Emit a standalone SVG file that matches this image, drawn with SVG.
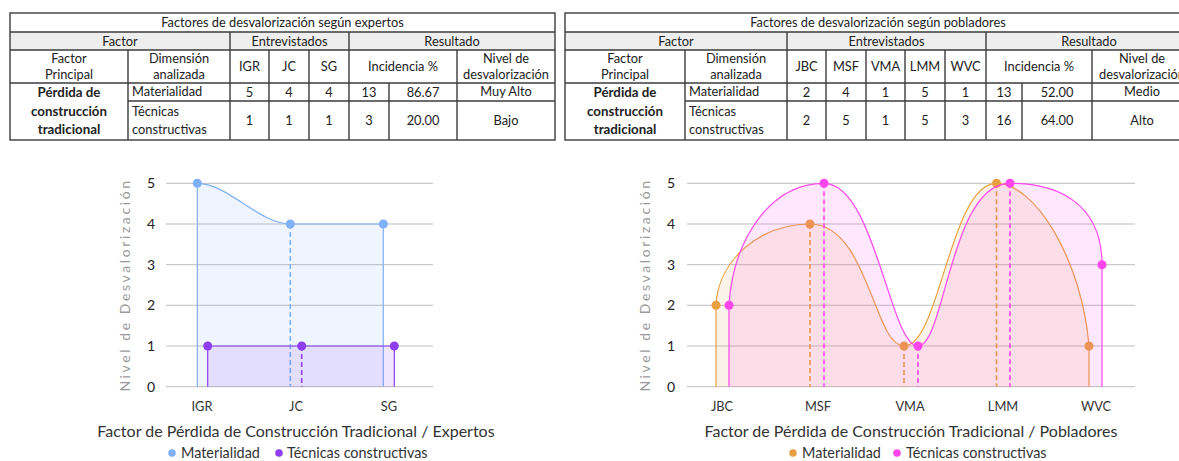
<svg xmlns="http://www.w3.org/2000/svg" width="1179" height="461" viewBox="0 0 1179 461">
<style>
  text { font-family: Lato, "Open Sans", "Liberation Sans", sans-serif; fill: #222; }
  .t { font-size: 12.8px; text-anchor: middle; }
  .tl { font-size: 12.8px; text-anchor: start; }
  .b { font-weight: bold; font-size: 13.3px; }
  .grid { stroke: #bdbdbd; stroke-width: 1; }
  .tb { stroke: #3c3c3c; stroke-width: 1.4; fill: none; }
  .ytick { font-size: 14px; text-anchor: middle; fill: #222; }
  .xtick { font-size: 12.8px; text-anchor: middle; fill: #333; }
  .ytitle { font-size: 14px; text-anchor: middle; fill: #9a9a9a; letter-spacing: 2.6px; }
  .xtitle { font-size: 16px; text-anchor: middle; fill: #333; }
  .leg { font-size: 14.4px; fill: #333; }
  .blue { stroke: #7fb0f5; fill: none; stroke-width: 1.2; }
  .purple { stroke: #8c3ef0; fill: none; stroke-width: 1.2; }
  .orange { stroke: #e9a040; fill: none; stroke-width: 1.2; }
  .pink { stroke: #ff45ee; fill: none; stroke-width: 1.2; }
  .dash { stroke-dasharray: 5 3; stroke-width: 1.6; }
</style>

<!-- Left table -->
<g id="table-expertos">
  <rect x="10" y="32" width="545" height="18" fill="#eeeeee"/>
  <rect x="10" y="13" width="545" height="127" class="tb"/>
  <path class="tb" d="M10,32H555 M10,50H555 M10,83H555 M128,101H555
    M128,50V140 M230,32V140 M269,50V140 M309,50V140 M349,32V140 M389,83V140 M457,50V140"/>
  <text class="t" x="282.5" y="27">Factores de desvalorización según expertos</text>
  <text class="t" x="120" y="45.5">Factor</text>
  <text class="t" x="289.5" y="45.5">Entrevistados</text>
  <text class="t" x="452" y="45.5">Resultado</text>
  <text class="t" x="69" y="63">Factor</text>
  <text class="t" x="69" y="79">Principal</text>
  <text class="t" x="179" y="63">Dimensión</text>
  <text class="t" x="179" y="79">analizada</text>
  <text class="t" x="249.5" y="71">IGR</text>
  <text class="t" x="289" y="71">JC</text>
  <text class="t" x="329" y="71">SG</text>
  <text class="t" x="403" y="71">Incidencia %</text>
  <text class="t" x="506" y="63">Nivel de</text>
  <text class="t" x="506" y="79">desvalorización</text>
  <text class="t b" x="69" y="97">Pérdida de</text>
  <text class="t b" x="69" y="116">construcción</text>
  <text class="t b" x="69" y="134">tradicional</text>
  <text class="tl" x="132" y="96">Materialidad</text>
  <text class="tl" x="132" y="116">Técnicas</text>
  <text class="tl" x="132" y="134">constructivas</text>
  <text class="t" x="249.5" y="97">5</text>
  <text class="t" x="289" y="97">4</text>
  <text class="t" x="329" y="97">4</text>
  <text class="t" x="369" y="97">13</text>
  <text class="t" x="423" y="97">86.67</text>
  <text class="t" x="506" y="96">Muy Alto</text>
  <text class="t" x="249.5" y="125">1</text>
  <text class="t" x="289" y="125">1</text>
  <text class="t" x="329" y="125">1</text>
  <text class="t" x="369" y="125">3</text>
  <text class="t" x="423" y="125">20.00</text>
  <text class="t" x="506" y="125">Bajo</text>
</g>

<!-- Right table -->
<g id="table-pobladores">
  <rect x="565" y="32" width="627" height="18" fill="#eeeeee"/>
  <rect x="565" y="13" width="627" height="127" class="tb"/>
  <path class="tb" d="M565,32H1192 M565,50H1192 M565,83H1192 M685,101H1192
    M685,50V140 M787,32V140 M826,50V140 M866,50V140 M905,50V140 M945,50V140 M986,32V140 M1022,83V140 M1092,50V140"/>
  <text class="t" x="878" y="27">Factores de desvalorización según pobladores</text>
  <text class="t" x="676" y="45.5">Factor</text>
  <text class="t" x="886.5" y="45.5">Entrevistados</text>
  <text class="t" x="1089" y="45.5">Resultado</text>
  <text class="t" x="625" y="63">Factor</text>
  <text class="t" x="625" y="79">Principal</text>
  <text class="t" x="736" y="63">Dimensión</text>
  <text class="t" x="736" y="79">analizada</text>
  <text class="t" x="806.5" y="71">JBC</text>
  <text class="t" x="846" y="71">MSF</text>
  <text class="t" x="885.5" y="71">VMA</text>
  <text class="t" x="925" y="71">LMM</text>
  <text class="t" x="965.5" y="71">WVC</text>
  <text class="t" x="1039" y="71">Incidencia %</text>
  <text class="t" x="1142" y="63">Nivel de</text>
  <text class="t" x="1142" y="79">desvalorización</text>
  <text class="t b" x="625" y="97">Pérdida de</text>
  <text class="t b" x="625" y="116">construcción</text>
  <text class="t b" x="625" y="134">tradicional</text>
  <text class="tl" x="689" y="96">Materialidad</text>
  <text class="tl" x="689" y="116">Técnicas</text>
  <text class="tl" x="689" y="134">constructivas</text>
  <text class="t" x="806.5" y="97">2</text>
  <text class="t" x="846" y="97">4</text>
  <text class="t" x="885.5" y="97">1</text>
  <text class="t" x="925" y="97">5</text>
  <text class="t" x="965.5" y="97">1</text>
  <text class="t" x="1004" y="97">13</text>
  <text class="t" x="1057" y="97">52.00</text>
  <text class="t" x="1142" y="96">Medio</text>
  <text class="t" x="806.5" y="125">2</text>
  <text class="t" x="846" y="125">5</text>
  <text class="t" x="885.5" y="125">1</text>
  <text class="t" x="925" y="125">5</text>
  <text class="t" x="965.5" y="125">3</text>
  <text class="t" x="1004" y="125">16</text>
  <text class="t" x="1057" y="125">64.00</text>
  <text class="t" x="1142" y="125">Alto</text>
</g>

<!-- Left chart -->
<g id="chart-expertos">
  <g id="grid-left">
    <path class="grid" d="M166,183.3H433 M166,224H433 M166,264.7H433 M166,305.3H433 M166,346H433 M166,386.7H433"/>
    <text class="ytick" x="151" y="188">5</text>
    <text class="ytick" x="151" y="229">4</text>
    <text class="ytick" x="151" y="269.5">3</text>
    <text class="ytick" x="151" y="310">2</text>
    <text class="ytick" x="151" y="351">1</text>
    <text class="ytick" x="151" y="391.5">0</text>
    <text class="ytitle" transform="translate(130,285) rotate(-90)">Nivel de Desvalorización</text>
    <text class="xtick" x="202" y="411">IGR</text>
    <text class="xtick" x="296" y="411">JC</text>
    <text class="xtick" x="389" y="411">SG</text>
    <text class="xtitle" x="296" y="437">Factor de Pérdida de Construcción Tradicional / Expertos</text>
  </g>
  <g id="series-materialidad-expertos">
    <path d="M197.3,386.7V183.3C228,183.3 259,224 290.3,224H383.3V386.7Z" fill="#7aaaf5" fill-opacity="0.12"/>
    <path class="blue" d="M197.3,386.7V183.3C228,183.3 259,224 290.3,224H383.3V386.7"/>
    <path class="blue dash" d="M290.3,224V386.7"/>
    <circle cx="197.3" cy="183.3" r="4.5" fill="#7fb0f5"/>
    <circle cx="290.3" cy="224" r="4.5" fill="#7fb0f5"/>
    <circle cx="383.3" cy="224" r="4.5" fill="#7fb0f5"/>
  </g>
  <g id="series-tecnicas-expertos">
    <path d="M207.7,386.7V346H394.3V386.7Z" fill="#823cf0" fill-opacity="0.12"/>
    <path class="purple" d="M207.7,386.7V346H394.3V386.7"/>
    <path class="purple dash" d="M301.7,346V386.7"/>
    <circle cx="207.7" cy="346" r="4.5" fill="#8c3ef0"/>
    <circle cx="301.7" cy="346" r="4.5" fill="#8c3ef0"/>
    <circle cx="394.3" cy="346" r="4.5" fill="#8c3ef0"/>
  </g>
  <g id="legend-left">
    <circle cx="172" cy="453" r="3.8" fill="#7fb0f5"/>
    <text class="leg" x="181" y="458">Materialidad</text>
    <circle cx="279" cy="453" r="3.8" fill="#8c3ef0"/>
    <text class="leg" x="287" y="458">Técnicas constructivas</text>
  </g>
</g>

<!-- Right chart -->
<g id="chart-pobladores">
  <g id="grid-right">
    <path class="grid" d="M687,183.3H1135 M687,224H1135 M687,264.7H1135 M687,305.3H1135 M687,346H1135 M687,386.7H1135"/>
    <text class="ytick" x="671" y="188">5</text>
    <text class="ytick" x="671" y="229">4</text>
    <text class="ytick" x="671" y="269.5">3</text>
    <text class="ytick" x="671" y="310">2</text>
    <text class="ytick" x="671" y="351">1</text>
    <text class="ytick" x="671" y="391.5">0</text>
    <text class="ytitle" transform="translate(650,285) rotate(-90)">Nivel de Desvalorización</text>
    <text class="xtick" x="722" y="411">JBC</text>
    <text class="xtick" x="818" y="411">MSF</text>
    <text class="xtick" x="910" y="411">VMA</text>
    <text class="xtick" x="1003" y="411">LMM</text>
    <text class="xtick" x="1096" y="411">WVC</text>
    <text class="xtitle" x="911" y="437">Factor de Pérdida de Construcción Tradicional / Pobladores</text>
  </g>
  <g id="series-materialidad-pobladores">
    <path d="M716,386.7V305.3C718,260 760,224 810,224C868,224 874,346 904,346C940,346 950,183.3 996.5,183.3C1035,183.3 1082,260 1089,346V386.7Z" fill="#e8a040" fill-opacity="0.12"/>
    <path class="orange" d="M716,386.7V305.3C718,260 760,224 810,224C868,224 874,346 904,346C940,346 950,183.3 996.5,183.3C1035,183.3 1082,260 1089,346V386.7"/>
    <path class="orange dash" d="M810,224V386.7 M904,346V386.7 M996.5,183.3V386.7"/>
    <circle cx="716" cy="305.3" r="4.5" fill="#e9a040"/>
    <circle cx="810" cy="224" r="4.5" fill="#e9a040"/>
    <circle cx="904" cy="346" r="4.5" fill="#e9a040"/>
    <circle cx="996.5" cy="183.3" r="4.5" fill="#e9a040"/>
    <circle cx="1089" cy="346" r="4.5" fill="#e9a040"/>
  </g>
  <g id="series-tecnicas-pobladores">
    <path d="M729,386.7V305.3C733,240 770,183.3 824,183.3C875,183.3 890,346 918,346C945,346 950,183.3 1010,183.3C1060,183.3 1102,205 1102,264.7V386.7Z" fill="#ff44ee" fill-opacity="0.12"/>
    <path class="pink" d="M729,386.7V305.3C733,240 770,183.3 824,183.3C875,183.3 890,346 918,346C945,346 950,183.3 1010,183.3C1060,183.3 1102,205 1102,264.7V386.7"/>
    <path class="pink dash" d="M824,183.3V386.7 M918,346V386.7 M1010,183.3V386.7"/>
    <circle cx="729" cy="305.3" r="4.5" fill="#ff45ee"/>
    <circle cx="824" cy="183.3" r="4.5" fill="#ff45ee"/>
    <circle cx="918" cy="346" r="4.5" fill="#ff45ee"/>
    <circle cx="1010" cy="183.3" r="4.5" fill="#ff45ee"/>
    <circle cx="1102" cy="264.7" r="4.5" fill="#ff45ee"/>
  </g>
  <g id="legend-right">
    <circle cx="793" cy="453" r="3.8" fill="#e9a040"/>
    <text class="leg" x="802" y="458">Materialidad</text>
    <circle cx="897" cy="453" r="3.8" fill="#ff45ee"/>
    <text class="leg" x="906" y="458">Técnicas constructivas</text>
  </g>
</g>
</svg>
